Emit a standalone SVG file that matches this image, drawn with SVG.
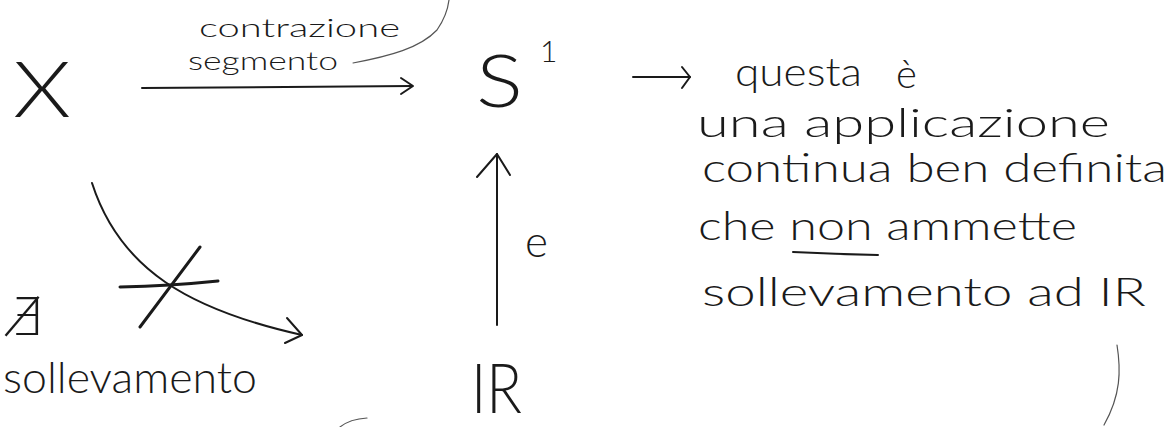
<svg xmlns="http://www.w3.org/2000/svg" width="1175" height="427" viewBox="0 0 1175 427">
  <style>
    .hw { font-family: Lato, "Open Sans", "DejaVu Sans", sans-serif; font-weight: 300; fill: #1a1a1a; }
    .ln { fill: none; stroke: #1a1a1a; stroke-width: 2; stroke-linecap: round; stroke-linejoin: round; }
    .thick { stroke-width: 3; }
    .faint { stroke-width: 1.2; stroke: #555; }
  </style>
  <rect width="1175" height="427" fill="#ffffff"/>

  <g id="node-X">
    <text class="hw" x="13" y="117" font-size="76" textLength="58" lengthAdjust="spacingAndGlyphs">X</text>
  </g>

  <g id="node-S1">
    <text class="hw" x="476" y="107" font-size="72" textLength="47" lengthAdjust="spacingAndGlyphs">S</text>
    <text class="hw" x="540" y="62" font-size="30">1</text>
  </g>

  <g id="node-R">
    <text class="hw" x="471" y="413" font-size="68" textLength="51" lengthAdjust="spacingAndGlyphs">IR</text>
  </g>

  <g id="label-contrazione">
    <text class="hw" x="199" y="37" font-size="26" textLength="201" lengthAdjust="spacingAndGlyphs">contrazione</text>
    <text class="hw" x="188" y="70" font-size="26" textLength="150" lengthAdjust="spacingAndGlyphs">segmento</text>
  </g>

  <g id="label-e">
    <text class="hw" x="525" y="257" font-size="44">e</text>
  </g>

  <g id="label-sollevamento">
    <text class="hw" x="10" y="335" font-size="52">∄</text>
    <text class="hw" x="3" y="393" font-size="44" textLength="254" lengthAdjust="spacingAndGlyphs">sollevamento</text>
  </g>

  <g id="note">
    <text class="hw" x="735" y="86" font-size="40" textLength="127" lengthAdjust="spacingAndGlyphs">questa</text>
    <text class="hw" x="896" y="88" font-size="40">è</text>
    <text class="hw" x="697" y="137" font-size="40" textLength="413" lengthAdjust="spacingAndGlyphs">una applicazione</text>
    <text class="hw" x="702" y="182" font-size="40" textLength="465" lengthAdjust="spacingAndGlyphs">continua ben definita</text>
    <text class="hw" x="698" y="240" font-size="40" textLength="379" lengthAdjust="spacingAndGlyphs">che non ammette</text>
    <path class="ln" d="M793,252 Q835,254 878,255"/>
    <text class="hw" x="702" y="306" font-size="40" textLength="444" lengthAdjust="spacingAndGlyphs">sollevamento ad IR</text>
  </g>

  <g id="connectors">
    <!-- X -> S1 -->
    <path class="ln" d="M142,88 L412,86"/>
    <path class="ln" d="M401,78 L413,86 L401,94"/>
    <!-- label leader from segmento -->
    <path class="ln faint" d="M353,63 C390,56 420,48 437,30 C444,20 448,8 449,0"/>
    <!-- S1 -> note -->
    <path class="ln" d="M633,77 L690,77"/>
    <path class="ln" d="M682,67 L690,77 L682,88"/>
    <!-- e : IR -> S1 -->
    <path class="ln" d="M497,325 L497,154"/>
    <path class="ln" d="M477,177 L497,154 L510,175"/>
    <!-- crossed-out lifting -->
    <path class="ln" d="M92,183 C120,270 190,310 302,335"/>
    <path class="ln" d="M287,318 L302,335 L285,343"/>
    <path class="ln thick" d="M120,287 Q170,286 218,281"/>
    <path class="ln thick" d="M140,327 L200,247"/>
  </g>

  <g id="fragments">
    <path class="ln faint" d="M340,427 Q350,419 367,418"/>
    <path class="ln faint" d="M1117,345 C1121,370 1121,395 1104,425"/>
  </g>
</svg>
